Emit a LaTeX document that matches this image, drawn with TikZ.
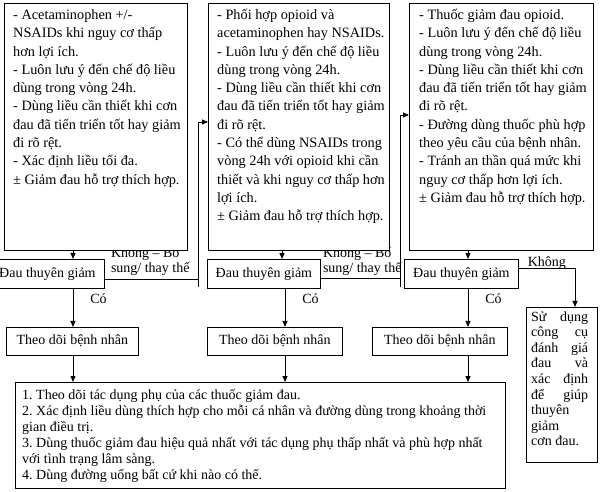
\documentclass[tikz,border=0pt]{standalone}
\usepackage{fontspec}
\setmainfont{Liberation Serif}
\usetikzlibrary{arrows.meta,positioning,backgrounds,calc}
\frenchspacing
\newcommand{\fsz}[2]{\fontsize{#1}{#2}\selectfont}
\newcommand{\firstrow}[1]{\rule{0pt}{#1}}

\begin{document}
\begin{tikzpicture}[
    x=1pt, y=-1pt,
    frame/.style={rectangle, draw, fill=white, line width=0.8pt, inner sep=0pt, anchor=north west},
    midbox/.style={frame, minimum height=29pt, text height=10pt, text depth=3pt, font=\fsz{14}{16}},
    watchbox/.style={frame, minimum height=28pt, text height=10pt, text depth=3pt, font=\fsz{14}{16}},
    boxtext/.style={inner sep=0pt, align=flush left, text width=#1},
    yes/.style={pos=0.25, right=17pt, inner sep=0pt, font=\fsz{14}{16}},
    alt/.style={inner sep=0pt, align=flush left, text width=90pt, anchor=south west, font=\fsz{14}{15}},
    link/.style={line width=0.8pt},
    arrow/.style={-{Triangle[length=6pt,width=5pt]}, line width=0.8pt}
]
\useasboundingbox (0,0) rectangle (606,492);

% columns and rows used by the connectors
\coordinate (c1) at (73,0);
\coordinate (c2a) at (282,0);
\coordinate (c2) at (285,0);
\coordinate (c3) at (468,0);
\coordinate (cn) at (575,0);
\coordinate (k1) at (198,287);
\coordinate (k2) at (400,287);
\coordinate (r1) at (0,279);
\coordinate (r2) at (0,278);
\coordinate (r3) at (0,268);
\coordinate (e2) at (0,122);
\coordinate (e3) at (0,115);

% top row
\node[frame, minimum width=183pt, minimum height=247pt] (top1) at (4,3) {};
\node[frame, minimum width=181pt, minimum height=247pt] (top2) at (208,3) {};
\node[frame, minimum width=184pt, minimum height=247pt] (top3) at (409,3) {};

\node[boxtext=185pt, font=\fsz{14.3}{18.3}, below right=2.3pt and 9pt of top1.north west] {\firstrow{14pt}- Acetaminophen +/-\\
NSAIDs khi nguy cơ thấp\\
hơn lợi ích.\\
- Luôn lưu ý đến chế độ liều\\
dùng trong vòng 24h.\\
- Dùng liều cần thiết khi cơn\\
đau đã tiến triển tốt hay giảm\\
đi rõ rệt.\\
- Xác định liều tối đa.\\
± Giảm đau hỗ trợ thích hợp.};

\node[boxtext=185pt, font=\fsz{14.3}{18.3}, below right=2.3pt and 9pt of top2.north west] {\firstrow{14pt}- Phối hợp opioid và\\
acetaminophen hay NSAIDs.\\
- Luôn lưu ý đến chế độ liều\\
dùng trong vòng 24h.\\
- Dùng liều cần thiết khi cơn\\
đau đã tiến triển tốt hay giảm\\
đi rõ rệt.\\
- Có thể dùng NSAIDs trong\\
vòng 24h với opioid khi cần\\
thiết và khi nguy cơ thấp hơn\\
lợi ích.\\
± Giảm đau hỗ trợ thích hợp.};

\node[boxtext=185pt, font=\fsz{14.3}{18.3}, below right=2.3pt and 10pt of top3.north west] {\firstrow{14pt}- Thuốc giảm đau opioid.\\
- Luôn lưu ý đến chế độ liều\\
dùng trong vòng 24h.\\
- Dùng liều cần thiết khi cơn\\
đau đã tiến triển tốt hay giảm\\
đi rõ rệt.\\
- Đường dùng thuốc phù hợp\\
theo yêu cầu của bệnh nhân.\\
- Tránh an thần quá mức khi\\
nguy cơ thấp hơn lợi ích.\\
± Giảm đau hỗ trợ thích hợp.};

% middle rows
\node[midbox, minimum width=114pt] (dau1) at (-10,259) {Đau thuyên giảm};
\node[midbox, minimum width=113pt] (dau2) at (207,259) {Đau thuyên giảm};
\node[midbox, minimum width=114pt] (dau3) at (404,259) {Đau thuyên giảm};

\node[watchbox, minimum width=132pt] (theo1) at (6,327) {Theo dõi bệnh nhân};
\node[watchbox, minimum width=135pt] (theo2) at (207,327) {Theo dõi bệnh nhân};
\node[watchbox, minimum width=135pt] (theo3) at (372,327) {Theo dõi bệnh nhân};

\node[frame, minimum width=71pt, minimum height=155pt] (supp) at (526,307) {};
\node[boxtext=57pt, font=\fsz{14}{15.6}, below right=1pt and 5pt of supp.north west] {\firstrow{13pt}Sử\hfill dụng\\
công\hfill cụ\\
đánh\hfill giá\\
đau\hfill và\\
xác\hfill định\\
để\hfill giúp\\
thuyên\\
giảm\\
cơn đau.};

% bottom box
\node[frame, minimum width=490pt, minimum height=106pt] (notes) at (15,382) {};
\node[boxtext=490pt, font=\fsz{14}{16}, below right=3pt and 7pt of notes.north west] {\firstrow{14pt}1. Theo dõi tác dụng phụ của các thuốc giảm đau.\\
2. Xác định liều dùng thích hợp cho mỗi cá nhân và đường dùng trong khoảng thời\\
gian điều trị.\\
3. Dùng thuốc giảm đau hiệu quả nhất với tác dụng phụ thấp nhất và phù hợp nhất\\
với tình trạng lâm sàng.\\
4. Dùng đường uống bất cứ khi nào có thể.};

% labels partly hidden by the top boxes
\begin{scope}[on background layer]
\node[alt] at ($(dau1.east |- r1)+(6,-3.5)$) {Không – Bổ\\sung/ thay thế};
\node[alt] at ($(dau2.east |- r2)+(2,-2.5)$) {Không – Bổ\\sung/ thay thế};
\end{scope}

% connectors
\draw[arrow] (top1.south -| c1) -- (dau1.north -| c1);
\draw[arrow] (top2.south -| c2a) -- (dau2.north -| c2a);
\draw[arrow] (top3.south -| c3) -- (dau3.north -| c3);

\draw[arrow] (dau1.south -| c1) -- node[yes] {Có} (theo1.north -| c1);
\draw[arrow] (dau2.south -| c2) -- node[yes] {Có} (theo2.north -| c2);
\draw[arrow] (dau3.south -| c3) -- node[yes] {Có} (theo3.north -| c3);

\draw[arrow] (theo1.south -| c1) -- (notes.north -| c1);
\draw[arrow] (theo2.south -| c2) -- (notes.north -| c2);
\draw[arrow] (theo3.south -| c3) -- (notes.north -| c3);

\draw[link] (dau1.east |- r1) -- (k1 |- r1);
\draw[arrow] (k1) |- (top2.west |- e2);
\draw[link] (dau2.east |- r2) -- (k2 |- r2);
\draw[arrow] (k2) |- (top3.west |- e3);

\draw[arrow] (dau3.east |- r3) -| node[pos=0.25, anchor=base, yshift=1.5pt, inner sep=0pt, font=\fsz{14}{16}] {Không} (supp.north -| cn);
\end{tikzpicture}
\end{document}
